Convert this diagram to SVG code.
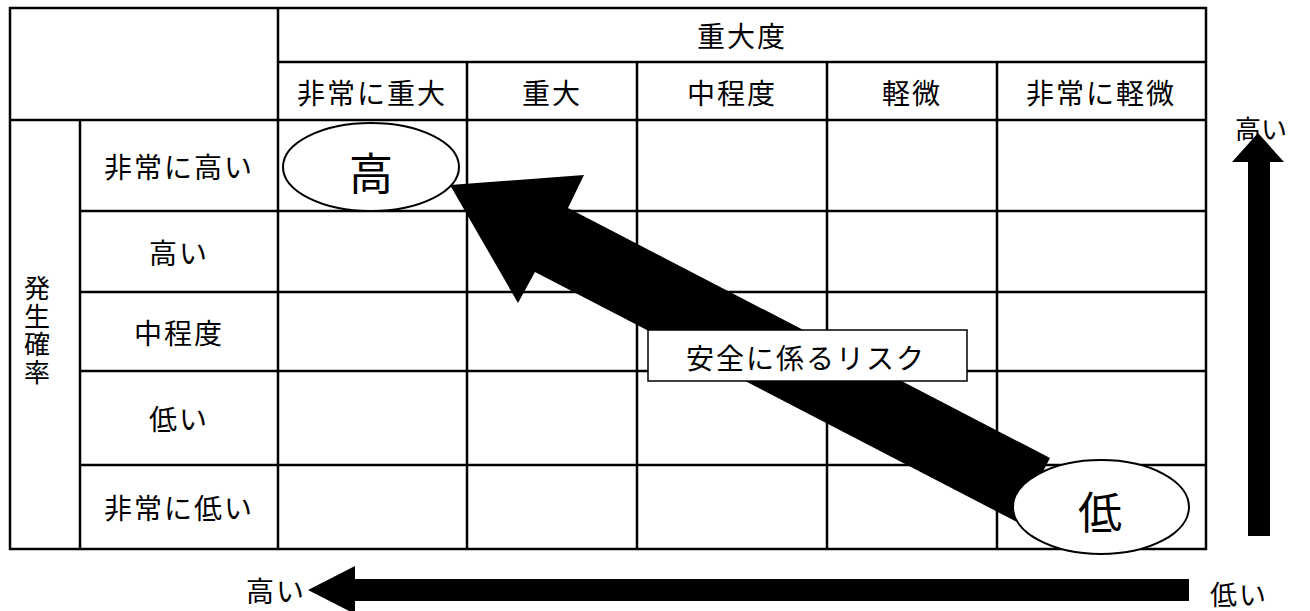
<svg xmlns="http://www.w3.org/2000/svg" width="1310" height="611" viewBox="0 0 1310 611">
<style>
.t{font-family:"Noto Sans CJK JP","Noto Sans CJK SC",sans-serif;fill:#000;text-anchor:middle;dominant-baseline:central}
.l{font-size:28px;letter-spacing:2px}
.g{stroke:#000;stroke-width:2.5;fill:none}
.e{fill:#fff;stroke:#000;stroke-width:2}
</style>
<rect width="1310" height="611" fill="#fff"/>
<g id="table">
<rect class="g" x="10" y="8" width="1196" height="541"/>
<line class="g" x1="278" y1="8" x2="278" y2="549"/>
<line class="g" x1="278" y1="62" x2="1206" y2="62"/>
<line class="g" x1="10" y1="120" x2="1206" y2="120"/>
<line class="g" x1="80" y1="120" x2="80" y2="549"/>
<line class="g" x1="467" y1="62" x2="467" y2="549"/>
<line class="g" x1="637" y1="62" x2="637" y2="549"/>
<line class="g" x1="827" y1="62" x2="827" y2="549"/>
<line class="g" x1="997" y1="62" x2="997" y2="549"/>
<line class="g" x1="80" y1="211" x2="1206" y2="211"/>
<line class="g" x1="80" y1="292" x2="1206" y2="292"/>
<line class="g" x1="80" y1="371" x2="1206" y2="371"/>
<line class="g" x1="80" y1="465" x2="1206" y2="465"/>
<text class="t l" x="742" y="35">重大度</text>
<text class="t l" x="372" y="92">非常に重大</text>
<text class="t l" x="552" y="92">重大</text>
<text class="t l" x="732" y="92">中程度</text>
<text class="t l" x="912" y="92">軽微</text>
<text class="t l" x="1101" y="92">非常に軽微</text>
<text class="t l" x="179" y="166">非常に高い</text>
<text class="t l" x="179" y="252">高い</text>
<text class="t l" x="179" y="332">中程度</text>
<text class="t l" x="179" y="418">低い</text>
<text class="t l" x="179" y="507">非常に低い</text>
<text class="t" style="font-size:26px;letter-spacing:2px;writing-mode:vertical-rl" x="37" y="331">発生確率</text>
</g>
<g id="node-high">
<ellipse class="e" cx="371" cy="167" rx="88" ry="44"/>
<text class="t" style="font-size:44px" x="371" y="171">高</text>
</g>
<g id="connectors">
<polygon points="450,185 584,175 568,208 1050,458 1017,522 535,272 518,303" fill="#000"/>
<polygon points="1258,133 1284,162 1270,162 1270,536 1248,536 1248,162 1232,162" fill="#000"/>
<polygon points="308,590 355,566 355,579 1189,579 1189,601 355,601 355,614" fill="#000"/>
</g>
<g id="node-low">
<ellipse class="e" cx="1101" cy="507" rx="88" ry="47"/>
<text class="t" style="font-size:44px" x="1100" y="510">低</text>
</g>
<g id="label-risk">
<rect x="648" y="330" width="319" height="51" fill="#fff" stroke="#000" stroke-width="1.5"/>
<text class="t l" x="806" y="357">安全に係るリスク</text>
</g>
<g id="axis-labels">
<text class="t" style="font-size:26px" x="1261" y="127">高い</text>
<text class="t l" x="276" y="590">高い</text>
<text class="t" style="font-size:27px;letter-spacing:2px" x="1239" y="593">低い</text>
</g>
</svg>
